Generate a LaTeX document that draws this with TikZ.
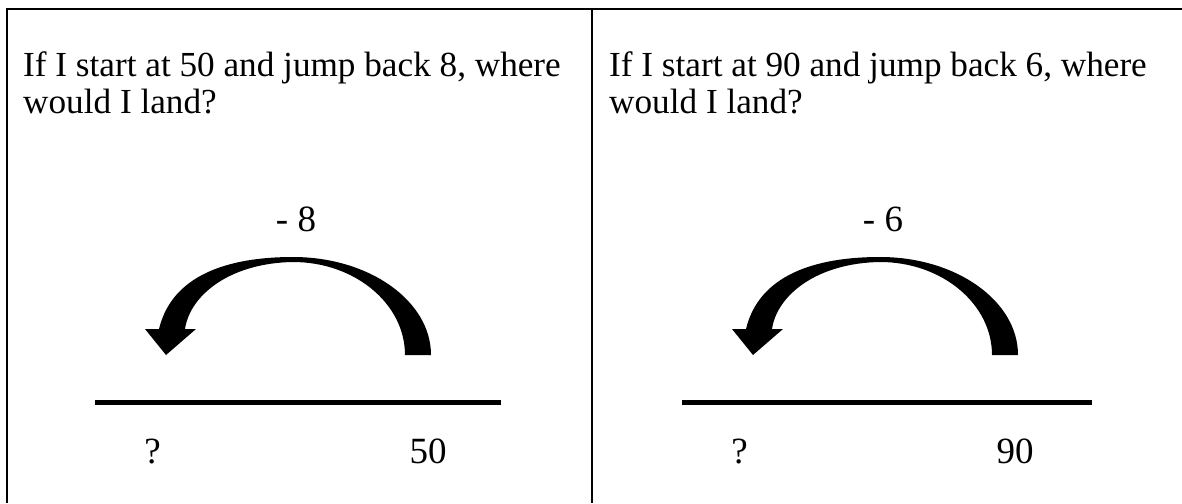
\documentclass[tikz,border=0pt]{standalone}
\usepackage{fontspec}
\setmainfont{Liberation Serif}
\begin{document}
\begin{tikzpicture}[x=1pt,y=-1pt,
  frame/.style={line width=2pt,black},
  numline/.style={line width=5pt,black},
  qtext/.style={anchor=base west,inner sep=0pt,font=\fontsize{35.2}{44}\selectfont},
  lbl/.style={anchor=base,inner sep=0pt,font=\fontsize{37}{44}\selectfont},
  jumparrow/.pic={
    \fill[black] (138,98) .. controls (138,43.9) and (76.2,0) .. (0,0)
      .. controls (-65,0) and (-121,18) .. (-134,72)
      -- (-148,72) -- (-127,98) -- (-97,72) -- (-108,72)
      .. controls (-103,38) and (-63,6) .. (0,5)
      .. controls (61.8,5) and (112,46.7) .. (112,98) -- cycle;
  }]
\useasboundingbox (0,0) rectangle (1182,503);
% frame
\coordinate (tl) at (7,9);
\coordinate (tr) at (1182,9);
\coordinate (bl) at (7,503);
\coordinate (mt) at (592,9);
\coordinate (mb) at (592,503);
\draw[frame] (bl) -- (tl) -- (tr);
\draw[frame] (mt) -- (mb);
% left panel
\node[qtext] (qa1) at (23,76) {If I start at 50 and jump back 8, where};
\node[qtext] (qa2) at (23,113) {would I land?};
\node[lbl] (ja) at (296,231) {- 8};
\pic at (293,257) {jumparrow};
\coordinate (la) at (95,402);
\coordinate (ra) at (501,402);
\draw[numline] (la) -- (ra);
\node[lbl] (qma) at (152.5,463) {?};
\node[lbl] (sa) at (428,463) {50};
% right panel
\node[qtext] (qb1) at (609,76) {If I start at 90 and jump back 6, where};
\node[qtext] (qb2) at (609,113) {would I land?};
\node[lbl] (jb) at (883,231) {- 6};
\pic at (880,257) {jumparrow};
\coordinate (lb) at (682,402);
\coordinate (rb) at (1092,402);
\draw[numline] (lb) -- (rb);
\node[lbl] (qmb) at (739.5,463) {?};
\node[lbl] (sb) at (1015,463) {90};
\end{tikzpicture}
\end{document}
